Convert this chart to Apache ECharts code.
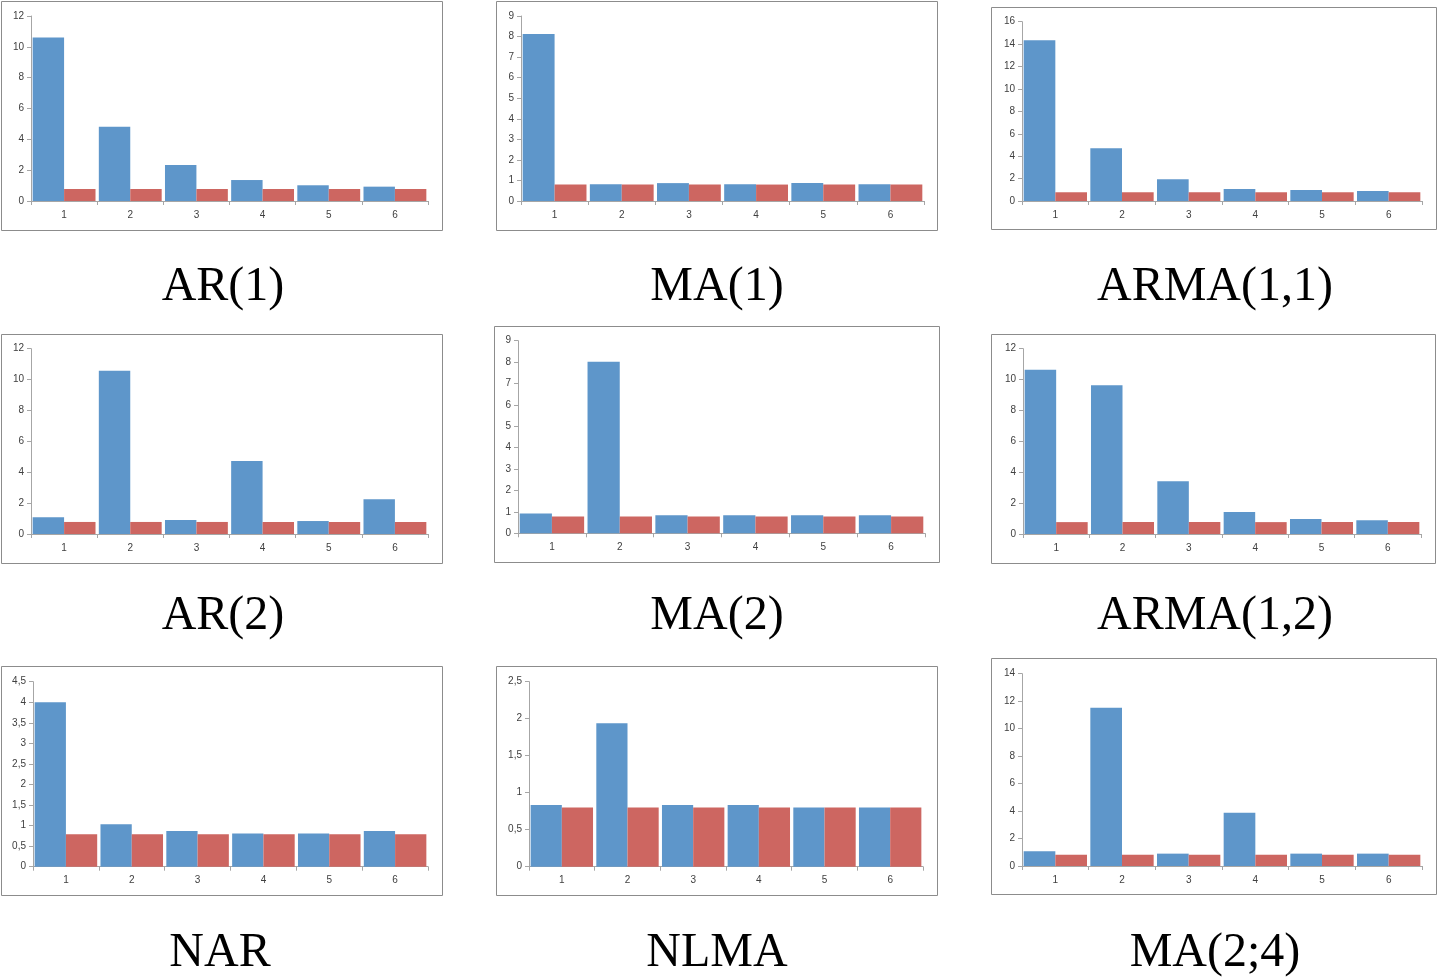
<!DOCTYPE html>
<html>
<head>
<meta charset="utf-8">
<script src="https://cdn.jsdelivr.net/npm/echarts@6/dist/echarts.min.js"></script>
<style>
  html, body { margin: 0; padding: 0; background: #ffffff; }
  #chart { width: 1438px; height: 978px; }
</style>
</head>
<body>
<div id="chart"></div>
<script>
// ---- data ----
const categories = ['1', '2', '3', '4', '5', '6'];
const titles = ['AR(1)', 'MA(1)', 'ARMA(1,1)', 'AR(2)', 'MA(2)', 'ARMA(1,2)', 'NAR', 'NLMA', 'MA(2;4)'];

const ar1Blue    = [10.6, 4.82, 2.33, 1.36, 1.02, 0.93];
const ar1Red     = [0.78, 0.78, 0.78, 0.78, 0.78, 0.78];
const ma1Blue    = [8.12, 0.81, 0.87, 0.81, 0.87, 0.81];
const ma1Red     = [0.80, 0.80, 0.80, 0.80, 0.80, 0.80];
const arma11Blue = [14.35, 4.7, 1.94, 1.07, 0.98, 0.89];
const arma11Red  = [0.78, 0.78, 0.78, 0.78, 0.78, 0.78];
const ar2Blue    = [1.08, 10.58, 0.9, 4.72, 0.84, 2.25];
const ar2Red     = [0.78, 0.78, 0.78, 0.78, 0.78, 0.78];
const ma2Blue    = [0.93, 8.02, 0.84, 0.84, 0.84, 0.84];
const ma2Red     = [0.79, 0.79, 0.79, 0.79, 0.79, 0.79];
const arma12Blue = [10.64, 9.63, 3.41, 1.42, 0.97, 0.89];
const arma12Red  = [0.77, 0.77, 0.77, 0.77, 0.77, 0.77];
const narBlue    = [4.0, 1.03, 0.87, 0.81, 0.81, 0.87];
const narRed     = [0.79, 0.79, 0.79, 0.79, 0.79, 0.79];
const nlmaBlue   = [0.834, 1.94, 0.834, 0.834, 0.80, 0.80];
const nlmaRed    = [0.80, 0.80, 0.80, 0.80, 0.80, 0.80];
const ma24Blue   = [1.07, 11.52, 0.9, 3.88, 0.9, 0.9];
const ma24Red    = [0.82, 0.82, 0.82, 0.82, 0.82, 0.82];

const yMax      = [12, 9, 16, 12, 9, 12, 4.5, 2.5, 14];
const yInterval = [2, 1, 2, 2, 1, 2, 0.5, 0.5, 2];

const blueSeries = [ar1Blue, ma1Blue, arma11Blue, ar2Blue, ma2Blue, arma12Blue, narBlue, nlmaBlue, ma24Blue];
const redSeries  = [ar1Red, ma1Red, arma11Red, ar2Red, ma2Red, arma12Red, narRed, nlmaRed, ma24Red];

// ---- layout (styling only) ----
const grids = [
  { left: 31,   top: 16,    width: 397, height: 185 },
  { left: 521,  top: 16,    width: 403, height: 185 },
  { left: 1022, top: 21.7,  width: 400, height: 179.3 },
  { left: 31,   top: 348.7, width: 397, height: 185.3 },
  { left: 518,  top: 340.7, width: 407, height: 192.6 },
  { left: 1023, top: 348.7, width: 398, height: 185.3 },
  { left: 33,   top: 681.7, width: 395, height: 185 },
  { left: 529,  top: 681.7, width: 394, height: 185 },
  { left: 1022, top: 673.7, width: 400, height: 192.3 }
];
const frames = [
  [1, 1, 442, 230], [496, 1, 937, 230], [991, 7, 1436, 229],
  [1, 334, 442, 563], [494, 326, 939, 562], [991, 334, 1435, 563],
  [1, 666, 442, 895], [496, 666, 937, 895], [991, 658, 1436, 894]
];
const titleCenters = [
  [223, 287.5], [717, 287.5], [1215, 287.5],
  [223, 616], [717, 616], [1215, 616],
  [220, 953.5], [717, 953.5], [1215, 953.5]
];

const BLUE = '#5E96CA';
const RED = '#CD6661';
const AXIS = '#A6A6A6';
const LABEL = '#404040';

const option = {
  animation: false,
  backgroundColor: '#ffffff',
  grid: grids.map(g => Object.assign({ containLabel: false }, g)),
  xAxis: grids.map((g, i) => ({
    type: 'category',
    gridIndex: i,
    data: categories,
    boundaryGap: true,
    axisLine: { show: true, lineStyle: { color: AXIS, width: 1 } },
    axisTick: { show: true, inside: false, length: 4, alignWithLabel: false, lineStyle: { color: AXIS } },
    axisLabel: { color: LABEL, fontFamily: 'Liberation Sans', fontSize: 10, margin: 9 },
    splitLine: { show: false }
  })),
  yAxis: grids.map((g, i) => ({
    type: 'value',
    gridIndex: i,
    min: 0,
    max: yMax[i],
    interval: yInterval[i],
    axisLine: { show: true, lineStyle: { color: AXIS, width: 1 } },
    axisTick: { show: true, inside: false, length: 4, lineStyle: { color: AXIS } },
    axisLabel: {
      color: LABEL, fontFamily: 'Liberation Sans', fontSize: 10, margin: 7,
      formatter: v => String(+v.toFixed(2)).replace('.', ',')
    },
    splitLine: { show: false }
  })),
  series: [],
  graphic: []
};

for (let i = 0; i < 9; i++) {
  option.series.push({
    type: 'bar', xAxisIndex: i, yAxisIndex: i, data: blueSeries[i],
    barGap: '0%', barCategoryGap: '5%',
    itemStyle: { color: BLUE }
  });
  option.series.push({
    type: 'bar', xAxisIndex: i, yAxisIndex: i, data: redSeries[i],
    barGap: '0%', barCategoryGap: '5%',
    itemStyle: { color: RED }
  });
  const f = frames[i];
  option.graphic.push({
    type: 'rect', silent: true, z: -1,
    shape: { x: f[0] + 0.5, y: f[1] + 0.5, width: f[2] - f[0], height: f[3] - f[1] },
    style: { fill: 'none', stroke: '#8C8C8C', lineWidth: 1 }
  });
  const t = titleCenters[i];
  option.graphic.push({
    type: 'text', silent: true, x: t[0], y: t[1],
    style: {
      text: titles[i], fill: '#000000',
      font: '48px "Liberation Serif", "Times New Roman", serif',
      align: 'center', verticalAlign: 'middle'
    }
  });
}

const chart = echarts.init(document.getElementById('chart'), null, { renderer: 'canvas' });
chart.setOption(option);
</script>
</body>
</html>
